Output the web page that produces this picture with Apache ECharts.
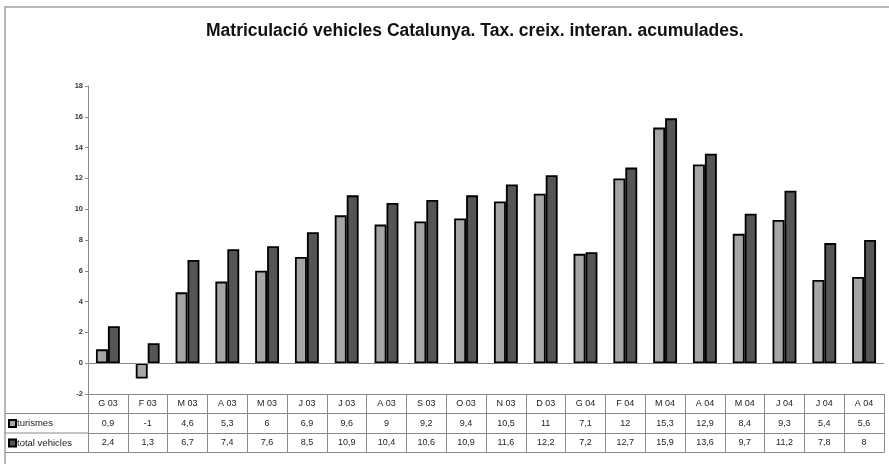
<!DOCTYPE html>
<html><head><meta charset="utf-8">
<script src="https://cdn.jsdelivr.net/npm/echarts@6/dist/echarts.min.js"></script>
<style>html,body{margin:0;padding:0;background:#fff}#c{width:889px;height:464px}</style>
</head><body><div id="c"></div>
<script>
const categories = ['G 03','F 03','M 03','A 03','M 03','J 03','J 03','A 03','S 03','O 03','N 03','D 03','G 04','F 04','M 04','A 04','M 04','J 04','J 04','A 04'];
const turismes = [0.9,-1,4.6,5.3,6,6.9,9.6,9,9.2,9.4,10.5,11,7.1,12,15.3,12.9,8.4,9.3,5.4,5.6];
const totalVehicles = [2.4,1.3,6.7,7.4,7.6,8.5,10.9,10.4,10.6,10.9,11.6,12.2,7.2,12.7,15.9,13.6,9.7,11.2,7.8,8];
const seriesNames = ['turismes','total vehicles'];
const title = 'Matriculació vehicles Catalunya. Tax. creix. interan. acumulades.';

const fmt = v => String(v).replace('.', ',');
const FONT = '"Liberation Sans", Arial, sans-serif';
const LINE = '#8a8a8a';
const ROW = 19.5;
const gridLeft = 88, gridRight = 5, gridTop = 86, gridBottom = 70;

function tableAxis(idx, values) {
  return {
    type: 'category', data: categories, position: 'bottom', gridIndex: 0,
    offset: idx * ROW, boundaryGap: true,
    axisLine: { show: true, onZero: false, lineStyle: { color: LINE, width: 1 } },
    axisTick: { show: values !== null, length: ROW, inside: false, interval: 0, lineStyle: { color: LINE, width: 1 } },
    axisLabel: {
      show: values !== null, interval: 0, margin: 0, lineHeight: ROW, height: ROW,
      verticalAlign: 'top', color: '#222', fontFamily: FONT, fontSize: 9,
      formatter: (v, i) => values === 'cat' ? categories[i] : fmt(values[i])
    },
    splitLine: { show: false }
  };
}

const chart = echarts.init(document.getElementById('c'), null, { renderer: 'canvas' });
chart.setOption({
  animation: false,
  backgroundColor: '#fff',
  title: {
    text: title, left: 206, top: 22, padding: [0, 0, 0, 0],
    textStyle: { fontFamily: FONT, fontSize: 17.5, fontWeight: 'bold', color: '#111' }
  },
  legend: {
    orient: 'vertical', left: 8, top: 418, itemWidth: 7, itemHeight: 7, itemGap: 8.5,
    icon: 'rect', data: seriesNames, padding: 0,
    textStyle: { fontFamily: FONT, fontSize: 9.5, lineHeight: 11, color: '#222', padding: [0, 0, 0, -4] },
    selectedMode: false
  },
  grid: { left: gridLeft, right: gridRight, top: gridTop, bottom: gridBottom, containLabel: false },
  xAxis: [
    tableAxis(0, 'cat'),
    tableAxis(1, turismes),
    tableAxis(2, totalVehicles),
    tableAxis(3, null)
  ],
  yAxis: {
    type: 'value', min: -2, max: 18, interval: 2,
    axisLine: { show: true, lineStyle: { color: LINE, width: 1 } },
    axisTick: { show: true, length: 3, lineStyle: { color: LINE } },
    axisLabel: { color: '#333', fontFamily: FONT, fontSize: 7.5, fontWeight: 'bold', margin: 5 },
    splitLine: { show: false }
  },
  series: [
    {
      name: seriesNames[0], type: 'bar', data: turismes, xAxisIndex: 0,
      barGap: '0%', barCategoryGap: '40%',
      itemStyle: { color: '#a6a6a6', borderColor: '#000', borderWidth: 1.8 },
      markLine: {
        silent: true, symbol: 'none', label: { show: false },
        lineStyle: { color: '#888', width: 1, type: 'solid' },
        data: [{ yAxis: 0 }]
      }
    },
    {
      name: seriesNames[1], type: 'bar', data: totalVehicles, xAxisIndex: 0,
      barGap: '0%', barCategoryGap: '40%',
      itemStyle: { color: '#555555', borderColor: '#000', borderWidth: 1.8 }
    }
  ],
  graphic: [
    { type: 'rect', shape: { x: 5, y: 7, width: 890, height: 470 }, style: { fill: 'none', stroke: '#b8b8b8', lineWidth: 2 }, silent: true },
    { type: 'line', shape: { x1: 5, y1: 394 + ROW, x2: gridLeft, y2: 394 + ROW }, style: { stroke: LINE, lineWidth: 1 } },
    { type: 'line', shape: { x1: 5, y1: 394 + 2 * ROW, x2: gridLeft, y2: 394 + 2 * ROW }, style: { stroke: LINE, lineWidth: 1 } },
    { type: 'line', shape: { x1: 5, y1: 394 + 3 * ROW, x2: gridLeft, y2: 394 + 3 * ROW }, style: { stroke: LINE, lineWidth: 1 } }
  ]
});
</script></body></html>
